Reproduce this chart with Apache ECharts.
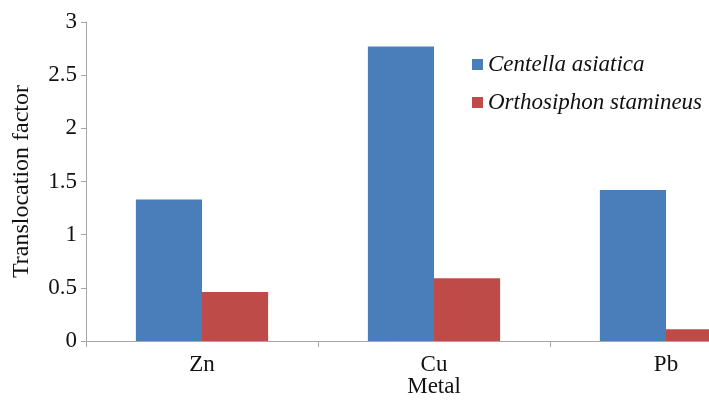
<!DOCTYPE html>
<html>
<head>
<meta charset="utf-8">
<script src="https://cdn.jsdelivr.net/npm/echarts@6/dist/echarts.min.js"></script>
<style>
  html, body { margin: 0; padding: 0; background: #fff; }
  #chart { width: 709px; height: 405px; }
</style>
</head>
<body>
<div id="chart"></div>
<script>
// data
var metals = ['Zn', 'Cu', 'Pb']
var centella = [1.33, 2.77, 1.42]
var orthosiphon = [0.46, 0.59, 0.11]
var yTicks = [0, 0.5, 1, 1.5, 2, 2.5, 3]

var font = '"Liberation Serif", "Times New Roman", serif'
var axisGrey = '#a6a6a6'

var chart = echarts.init(document.getElementById('chart'), null, { renderer: 'canvas' })

chart.setOption({
  animation: false,
  backgroundColor: '#fff',
  textStyle: { fontFamily: font },
  // plot runs past the right edge, the original figure is cropped there
  grid: { left: 86, right: -73, top: 22, bottom: 64, containLabel: false, outerBoundsMode: 'none' },
  legend: {
    orient: 'vertical',
    left: 467,
    top: 48,
    itemWidth: 11,
    itemHeight: 11,
    itemGap: 15,
    icon: 'rect',
    textStyle: { fontFamily: font, fontStyle: 'italic', fontSize: 23, color: '#111' },
    data: ['Centella asiatica', 'Orthosiphon stamineus']
  },
  xAxis: {
    type: 'category',
    data: metals,
    name: 'Metal',
    nameLocation: 'middle',
    nameGap: 34,
    nameMoveOverlap: false,
    nameTextStyle: { fontFamily: font, fontSize: 23, color: '#111' },
    axisLine: { lineStyle: { color: axisGrey } },
    axisTick: { show: true, length: 6, lineStyle: { color: axisGrey } },
    axisLabel: { fontFamily: font, fontSize: 23, color: '#111', margin: 12 }
  },
  yAxis: {
    type: 'value',
    min: yTicks[0],
    max: yTicks[yTicks.length - 1],
    interval: 0.5,
    name: 'Translocation factor',
    nameLocation: 'middle',
    nameGap: 52,
    nameMoveOverlap: false,
    nameTextStyle: { fontFamily: font, fontSize: 24, color: '#111' },
    axisLine: { show: true, lineStyle: { color: axisGrey } },
    axisTick: { show: true, length: 5, lineStyle: { color: axisGrey } },
    axisLabel: { fontFamily: font, fontSize: 23, color: '#111', margin: 9 },
    splitLine: { show: false }
  },
  series: [
    {
      name: 'Centella asiatica',
      type: 'bar',
      data: centella,
      barGap: '0%',
      barCategoryGap: '43%',
      itemStyle: { color: '#4a7ebb' }
    },
    {
      name: 'Orthosiphon stamineus',
      type: 'bar',
      data: orthosiphon,
      itemStyle: { color: '#be4b48' }
    }
  ]
})
</script>
</body>
</html>
